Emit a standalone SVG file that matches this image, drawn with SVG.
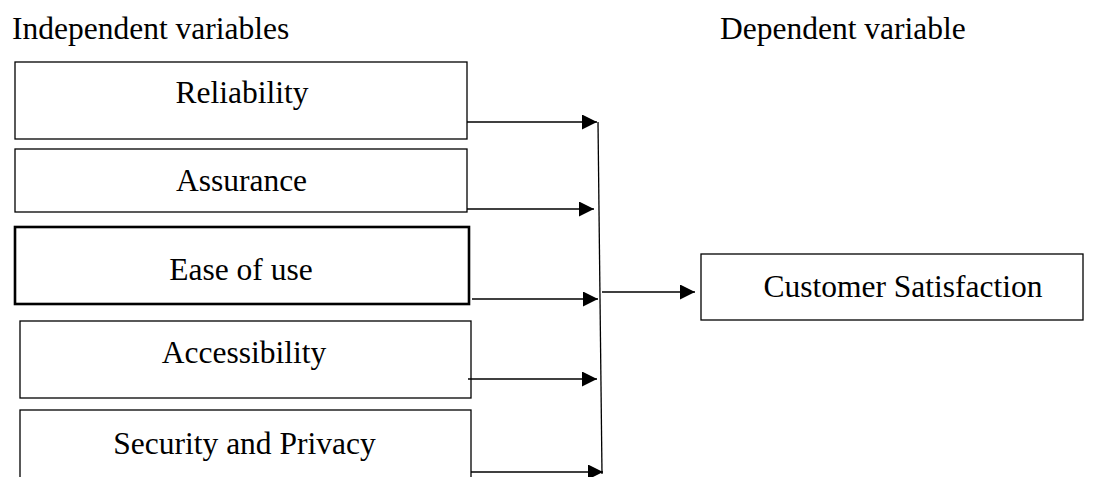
<svg xmlns="http://www.w3.org/2000/svg" width="1096" height="477" viewBox="0 0 1096 477">
<style>
.box{fill:#fff;stroke:#000;stroke-width:1.3}
.thick{stroke-width:2.6}
.t{font-family:"Liberation Serif","Times New Roman",serif;font-size:31.5px;fill:#000}
.c{text-anchor:middle}
.ln{fill:none;stroke:#000;stroke-width:1.3}
</style>
<defs>
<marker id="ah" markerUnits="userSpaceOnUse" markerWidth="16" markerHeight="16" refX="15" refY="7.5" orient="auto" viewBox="0 0 16 16">
<path d="M0,0 L15,7.5 L0,15 Z" fill="#000"/>
</marker>
</defs>
<rect width="1096" height="477" fill="#fff"/>
<text class="t" x="12" y="39">Independent variables</text>
<text class="t" x="720" y="39">Dependent variable</text>
<g id="reliability">
<rect class="box" x="15" y="62" width="452" height="77"/>
<text class="t c" x="242" y="103">Reliability</text>
</g>
<g id="assurance">
<rect class="box" x="15" y="149" width="452" height="63"/>
<text class="t c" x="241.5" y="191">Assurance</text>
</g>
<g id="ease">
<rect class="box thick" x="15" y="227" width="454" height="77"/>
<text class="t c" x="241" y="280">Ease of use</text>
</g>
<g id="accessibility">
<rect class="box" x="20" y="321" width="451" height="77"/>
<text class="t c" x="244" y="363">Accessibility</text>
</g>
<g id="security">
<rect class="box" x="20" y="410" width="451" height="80"/>
<text class="t c" x="244.5" y="454">Security and Privacy</text>
</g>
<g id="satisfaction">
<rect class="box" x="701" y="254" width="382" height="66"/>
<text class="t c" x="903" y="297">Customer Satisfaction</text>
</g>
<g id="connectors">
<line class="ln" x1="598" y1="122" x2="602" y2="474"/>
<line class="ln" x1="467" y1="122" x2="597" y2="122" marker-end="url(#ah)"/>
<line class="ln" x1="467" y1="209" x2="594" y2="209" marker-end="url(#ah)"/>
<line class="ln" x1="472" y1="299" x2="598" y2="299" marker-end="url(#ah)"/>
<line class="ln" x1="468" y1="379" x2="597" y2="379" marker-end="url(#ah)"/>
<line class="ln" x1="471" y1="472" x2="603" y2="472" marker-end="url(#ah)"/>
<line class="ln" x1="602" y1="292" x2="695" y2="292" marker-end="url(#ah)"/>
</g>
</svg>
